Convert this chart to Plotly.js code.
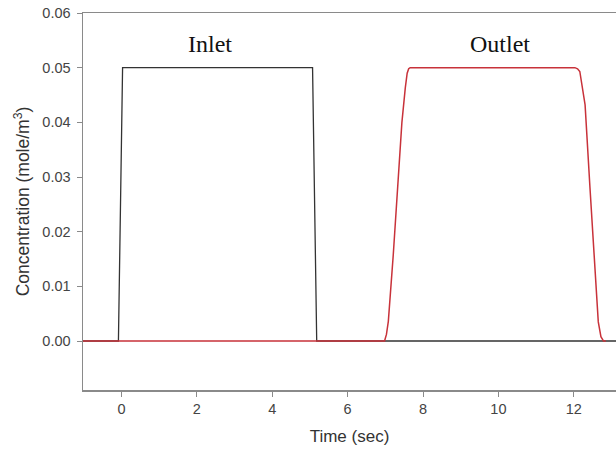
<!DOCTYPE html>
<html>
<head>
<meta charset="utf-8">
<script src="https://cdn.plot.ly/plotly-3.0.1.min.js"></script>
<style>html,body{margin:0;padding:0;background:#fff;}#chart{width:616px;height:452px;}</style>
</head>
<body>
<div id="chart"></div>
<script>
// Inlet pulse (black)
var inletTime = [-1.02, -0.08, 0.03, 5.07, 5.18, 13.12];
var inletConc = [0, 0, 0.05, 0.05, 0, 0];

// Outlet pulse (red)
var outletTime = [-1.02, 6.98, 7.03, 7.08, 7.21, 7.32, 7.44, 7.53, 7.58, 7.62, 7.66, 12.03, 12.10, 12.16, 12.30, 12.43, 12.57, 12.65, 12.72, 12.79, 12.85];
var outletConc = [0, 0, 0.0012, 0.0036, 0.0157, 0.028, 0.040, 0.0463, 0.049, 0.0498, 0.05, 0.05, 0.0498, 0.0493, 0.0432, 0.028, 0.0127, 0.0035, 0.0008, 0, 0];

var xTicks = [0, 2, 4, 6, 8, 10, 12];
var yTicks = [0.00, 0.01, 0.02, 0.03, 0.04, 0.05, 0.06];

var labels = ["Inlet", "Outlet"];
var labelX = [2.35, 10.05];
var labelY = [0.0543, 0.0543];

var traces = [
  {x: inletTime, y: inletConc, type: 'scatter', mode: 'lines',
   line: {color: '#333333', width: 1.3}, hoverinfo: 'skip'},
  {x: outletTime, y: outletConc, type: 'scatter', mode: 'lines',
   line: {color: '#c8323a', width: 1.5}, hoverinfo: 'skip'}
];

var sans = 'Liberation Sans, Arial, sans-serif';
var tickFont = {family: sans, size: 14.5, color: '#444444'};

var layout = {
  width: 616, height: 452,
  margin: {l: 83, r: 0, t: 13, b: 62},
  paper_bgcolor: '#ffffff', plot_bgcolor: '#ffffff',
  showlegend: false,
  xaxis: {
    range: [-1.02, 13.12], tickvals: xTicks, ticktext: xTicks.map(String),
    showgrid: false, zeroline: false, showline: true, mirror: true,
    linecolor: '#8a8a8a', linewidth: 1.5,
    ticks: 'outside', ticklen: 5, tickcolor: '#8a8a8a', tickwidth: 1,
    tickfont: tickFont, automargin: false,
    title: {text: 'Time (sec)', font: {family: sans, size: 17, color: '#333333'}, standoff: 14}
  },
  yaxis: {
    range: [-0.00896, 0.06], tickvals: yTicks, ticktext: yTicks.map(function(v){return v.toFixed(2);}),
    showgrid: false, zeroline: false, showline: true,
    linecolor: '#8a8a8a', linewidth: 1.5,
    ticks: 'outside', ticklen: 5, tickcolor: '#8a8a8a', tickwidth: 1,
    ticklabelstandoff: 3,
    tickfont: tickFont, automargin: false,
    title: {text: 'Concentration (mole/m<sup>3</sup>)', font: {family: sans, size: 17.5, color: '#333333'}, standoff: 8}
  },
  annotations: labels.map(function(t, i){
    return {x: labelX[i], y: labelY[i], xref: 'x', yref: 'y', text: t, showarrow: false,
      font: {family: 'Liberation Serif, Times New Roman, serif', size: 24, color: '#111111'}};
  })
};

Plotly.newPlot('chart', traces, layout, {displayModeBar: false, staticPlot: true});
</script>
</body>
</html>
